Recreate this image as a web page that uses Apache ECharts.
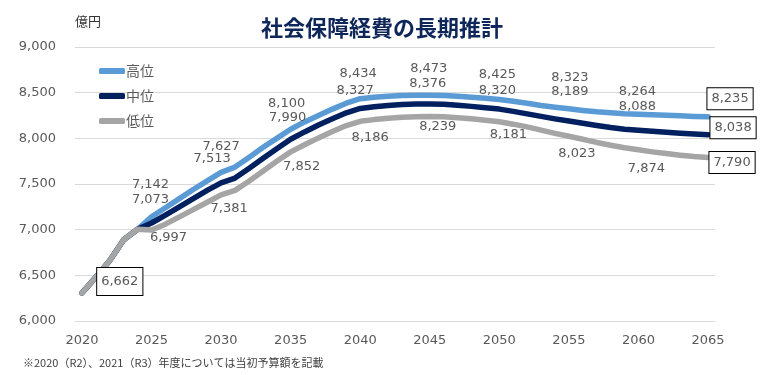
<!DOCTYPE html>
<html>
<head>
<meta charset="utf-8">
<script src="https://cdn.jsdelivr.net/npm/echarts@6/dist/echarts.min.js"></script>
<style>
  html, body { margin: 0; padding: 0; background: #fff; }
  #chart { width: 764px; height: 375px; }
</style>
</head>
<body>
<div id="chart"></div>
<script>
// 年度 2020〜2065
const years = Array.from({ length: 46 }, (_, i) => String(2020 + i))

// 推計値（億円）
const highVals = [
  6306, 6480, 6662, 6890, 7005,
  7142, 7240, 7340, 7440, 7535, 7627, 7685, 7790, 7900, 8000,
  8100, 8180, 8250, 8320, 8385, 8434, 8450, 8462, 8470, 8473,
  8473, 8470, 8462, 8450, 8440, 8425, 8405, 8385, 8360, 8340,
  8323, 8305, 8290, 8280, 8270, 8264, 8258, 8252, 8246, 8240, 8235
]
const midVals = [
  6306, 6480, 6662, 6890, 7005,
  7073, 7160, 7250, 7340, 7430, 7513, 7565, 7670, 7780, 7885,
  7990, 8070, 8145, 8215, 8280, 8327, 8345, 8360, 8370, 8375,
  8376, 8372, 8362, 8350, 8336, 8320, 8295, 8268, 8240, 8213,
  8189, 8165, 8140, 8118, 8100, 8088, 8077, 8066, 8056, 8047, 8038
]
const lowVals = [
  6306, 6480, 6662, 6890, 7005,
  6997, 7060, 7140, 7220, 7300, 7381, 7430, 7530, 7640, 7750,
  7852, 7930, 8005, 8075, 8140, 8186, 8205, 8220, 8230, 8237,
  8239, 8235, 8226, 8214, 8199, 8181, 8155, 8125, 8090, 8055,
  8023, 7990, 7955, 7925, 7897, 7874, 7852, 7833, 7815, 7800, 7790
]

// ラベルを表示する年度
const labelYears = ['2025', '2030', '2035', '2040', '2045', '2050', '2055', '2060', '2065']
const boxedYears = ['2065']

// ラベル位置の微調整（点からのずれ）
const labelOffsets = {
  high: { 2025: [-1, -32], 2030: [0, -26], 2035: [-4, -26], 2040: [-2, -25], 2045: [-1, -27],
          2050: [-2, -25], 2055: [1, -31], 2060: [-1, -23], 2065: [22, -18] },
  mid:  { 2025: [-1, -23], 2030: [-9, -24], 2035: [-3, -22], 2040: [-5, -18], 2045: [-2, -20],
          2050: [-2, -18], 2055: [1, -29], 2060: [-1, -24], 2065: [25, -7] },
  low:  { 2022: [10, 21], 2025: [17, 8], 2030: [8, 14], 2035: [11, 15], 2040: [10, 16], 2045: [8, 10],
          2050: [9, 13], 2055: [8, 17], 2060: [8, 19], 2065: [24, 5] }
}

const fmt = v => String(v).replace(/\B(?=(\d{3})+(?!\d))/g, ',')

const buildData = (vals, key, extraYears = []) => vals.map((v, i) => {
  const y = years[i]
  const shown = labelYears.includes(y) || extraYears.includes(y)
  if (!shown) return v
  const boxed = boxedYears.includes(y) || extraYears.includes(y)
  return {
    value: v,
    label: {
      show: true,
      position: 'inside',
      offset: labelOffsets[key][y],
      formatter: p => fmt(p.value),
      color: '#595959',
      fontSize: 13,
      fontFamily: 'DejaVu Sans',
      backgroundColor: boxed ? '#fff' : 'transparent',
      borderColor: boxed ? '#000' : 'transparent',
      borderWidth: boxed ? 1 : 0,
      padding: boxed ? (y === '2022' ? [7, 4] : [4, 4]) : 0
    }
  }
})

const lineSeries = (name, vals, key, color, extra) => ({
  name,
  type: 'line',
  data: buildData(vals, key, extra),
  symbol: 'circle',
  symbolSize: 0,
  showSymbol: true,
  itemStyle: { color },
  lineStyle: { color, width: 5.5, cap: 'round', join: 'round' },
  emphasis: { disabled: true },
  animation: false
})

const chart = echarts.init(document.getElementById('chart'))
chart.setOption({
  animation: false,
  title: {
    text: '社会保障経費の長期推計',
    left: 'center',
    top: 12,
    textStyle: { fontSize: 22, fontWeight: 'bold', color: '#0E2659', fontFamily: 'Noto Sans CJK JP' }
  },
  legend: {
    data: ['高位', '中位', '低位'],
    orient: 'vertical',
    left: 94,
    top: 59,
    itemWidth: 26,
    itemHeight: 6,
    itemGap: 11,
    icon: 'roundRect',
    textStyle: { fontSize: 14, color: '#595959', fontFamily: 'Noto Sans CJK JP', padding: [0, 0, 0, -4] }
  },
  graphic: [
    { type: 'text', left: 75, top: 15, style: { text: '億円', fontSize: 13, fill: '#333', fontFamily: 'Noto Sans CJK JP' } },
    { type: 'text', left: 23, top: 357, style: { text: '※2020（R2）、2021（R3）年度については当初予算額を記載', fontSize: 11, fill: '#404040', fontFamily: 'Noto Sans CJK JP' } }
  ],
  grid: { left: 75, right: 49, top: 47, bottom: 54 },
  xAxis: {
    type: 'category',
    data: years,
    boundaryGap: true,
    axisTick: { show: false },
    axisLine: { lineStyle: { color: '#D9D9D9' } },
    axisLabel: { interval: 4, color: '#595959', fontSize: 13, fontFamily: 'DejaVu Sans', margin: 13 }
  },
  yAxis: {
    type: 'value',
    min: 6000,
    max: 9000,
    interval: 500,
    axisLine: { show: false },
    axisTick: { show: false },
    splitLine: { lineStyle: { color: '#D9D9D9' } },
    axisLabel: { color: '#595959', fontSize: 13, fontFamily: 'DejaVu Sans', margin: 19, formatter: v => fmt(v) }
  },
  series: [
    lineSeries('高位', highVals, 'high', '#5B9BD5'),
    lineSeries('中位', midVals, 'mid', '#002060'),
    lineSeries('低位', lowVals, 'low', '#A5A5A5', ['2022'])
  ]
})
</script>
</body>
</html>
